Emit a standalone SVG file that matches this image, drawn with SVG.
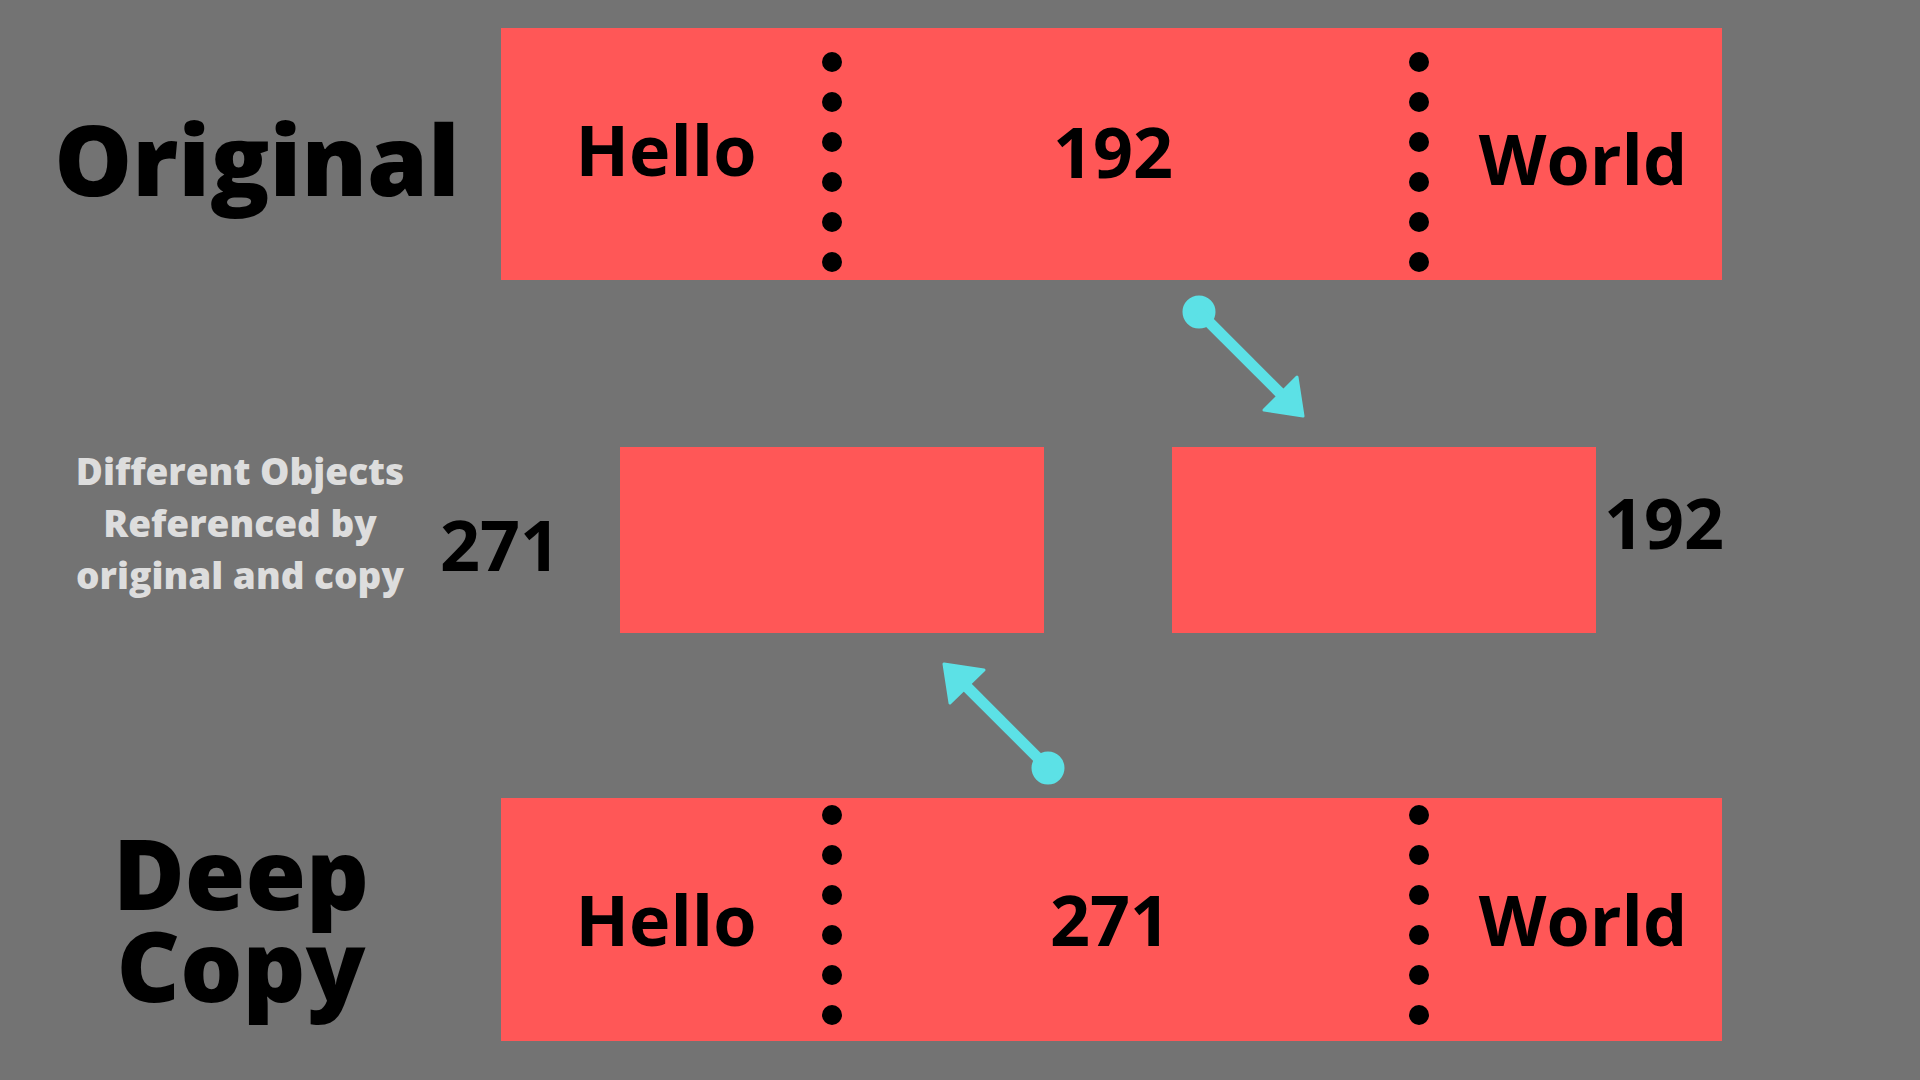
<svg xmlns="http://www.w3.org/2000/svg" width="1920" height="1080" viewBox="0 0 1920 1080">
  <style>
    .bar { fill: #FF5757; }
    .dot { fill: #000000; }
    .t { font-family: "Open Sans", "Liberation Sans", sans-serif; font-weight: 700; fill: #000000; text-anchor: middle; }
    .title { font-size: 98px; font-weight: 800; }
    .cell { font-size: 70px; }
    .note { font-size: 37px; font-weight: 800; fill: #DDDDDD; }
    .conn { stroke: #5CE1E6; stroke-width: 11; fill: none; }
    .cfill { fill: #5CE1E6; stroke: #5CE1E6; stroke-width: 3; stroke-linejoin: round; }
  </style>
  <defs>
    <g id="dots">
      <circle class="dot" cx="0" cy="0" r="10"/>
      <circle class="dot" cx="0" cy="40" r="10"/>
      <circle class="dot" cx="0" cy="80" r="10"/>
      <circle class="dot" cx="0" cy="120" r="10"/>
      <circle class="dot" cx="0" cy="160" r="10"/>
      <circle class="dot" cx="0" cy="200" r="10"/>
    </g>
  </defs>
  <rect x="0" y="0" width="1920" height="1080" fill="#737373"/>

  <g id="label-original">
    <text class="t title" x="257" y="196">Original</text>
  </g>
  <g id="label-deepcopy">
    <text class="t title" x="241" y="910">Deep</text>
    <text class="t title" x="241" y="1002">Copy</text>
  </g>
  <g id="label-note">
    <text class="t note" x="240" y="485">Different Objects</text>
    <text class="t note" x="240" y="537">Referenced by</text>
    <text class="t note" x="240" y="589">original and copy</text>
  </g>

  <g id="original">
    <rect class="bar" x="501" y="28" width="1221" height="252"/>
    <use href="#dots" x="832" y="62"/>
    <use href="#dots" x="1419" y="62"/>
    <text class="t cell" x="666" y="176">Hello</text>
    <text class="t cell" x="1113" y="178">192</text>
    <text class="t cell" x="1583" y="185">World</text>
  </g>

  <g id="obj-271">
    <rect class="bar" x="620" y="447" width="424" height="186"/>
    <text class="t cell" x="500" y="571">271</text>
  </g>
  <g id="obj-192">
    <rect class="bar" x="1172" y="447" width="424" height="186"/>
    <text class="t cell" x="1664" y="549">192</text>
  </g>

  <g id="deepcopy">
    <rect class="bar" x="501" y="798" width="1221" height="243"/>
    <use href="#dots" x="832" y="815"/>
    <use href="#dots" x="1419" y="815"/>
    <text class="t cell" x="666" y="946">Hello</text>
    <text class="t cell" x="1110" y="946">271</text>
    <text class="t cell" x="1583" y="946">World</text>
  </g>

  <g id="connectors">
    <circle class="cfill" cx="1199" cy="312" r="15"/>
    <line class="conn" x1="1199" y1="312" x2="1282" y2="395"/>
    <polygon class="cfill" points="1303,416 1264,410 1297,377"/>
    <circle class="cfill" cx="1048" cy="768" r="15"/>
    <line class="conn" x1="1048" y1="768" x2="965" y2="685"/>
    <polygon class="cfill" points="944,664 984,670 950,703"/>
  </g>
</svg>
